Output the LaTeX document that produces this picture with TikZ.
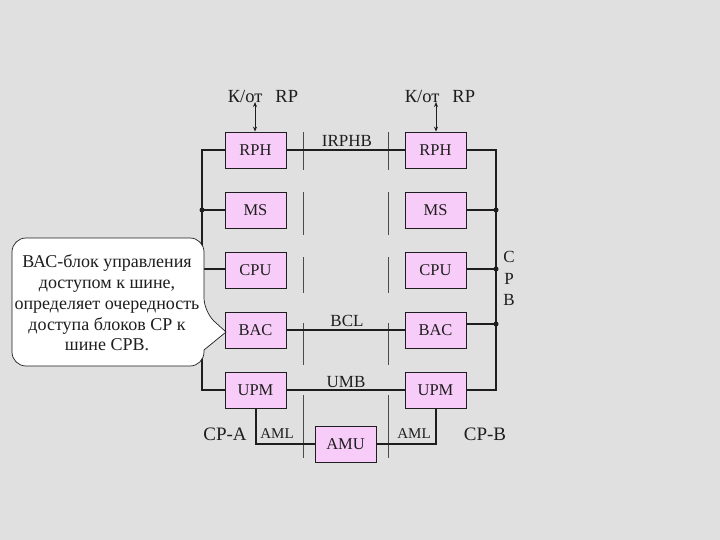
\documentclass[tikz,border=0pt]{standalone}
\usepackage{fontspec}
\setmainfont{Liberation Serif}
\usetikzlibrary{arrows.meta}
\definecolor{bg}{RGB}{224,224,224}
\definecolor{boxpink}{RGB}{248,204,248}
\definecolor{ink}{RGB}{30,30,30}
\tikzset{
  unit/.style={draw=ink,line width=0.8pt,fill=boxpink,minimum width=61pt,minimum height=36pt,inner sep=0pt,font=\fontsize{16.5}{18}\selectfont,text=ink},
  bus/.style={draw=ink,line width=1.6pt},
  divider/.style={draw=ink!80,line width=0.8pt},
  lbl/.style={inner sep=0pt,font=\fontsize{17}{19}\selectfont,text=ink},
  dotj/.style={circle,fill=ink,inner sep=0pt,minimum size=5pt},
}
\begin{document}
\begin{tikzpicture}[x=1pt,y=-1pt]
\fill[bg] (0,0) rectangle (720,540);
\useasboundingbox (0,0) rectangle (720,540);

% dividers
\foreach \xx in {303,388}{
  \foreach \ya/\yb in {132/170,192/235,257/293,323/365,395/458}{
    \draw[divider] (\xx,\ya) -- (\xx,\yb);
  }
}

% units
\node[unit] (rpha) at (255.5,150) {RPH};
\node[unit] (msa)  at (255.5,210) {MS};
\node[unit] (cpua) at (255.5,270) {CPU};
\node[unit] (baca) at (255.5,330) {BAC};
\node[unit] (upma) at (255.5,390) {UPM};
\node[unit] (rphb) at (435.5,150) {RPH};
\node[unit] (msb)  at (435.5,210) {MS};
\node[unit] (cpub) at (435.5,270) {CPU};
\node[unit] (bacb) at (435.5,330) {BAC};
\node[unit] (upmb) at (435.5,390) {UPM};
\node[unit] (amu)  at (345.5,444) {AMU};

% bus coordinates
\coordinate (la1) at (202,150);
\coordinate (la2) at (202,210);
\coordinate (la3) at (202,269);
\coordinate (la5) at (202,390);
\coordinate (rb1) at (496,150);
\coordinate (rb2) at (496,210);
\coordinate (rb3) at (496,269);
\coordinate (rb4) at (496,324);
\coordinate (rb5) at (496,390);

% left bus
\draw[bus] (rpha.west) -- (la1) -- (la5) -- (upma.west);
\draw[bus] (la2) -- (msa.west);
\draw[bus] (la3) -- (cpua.west |- la3);
\node[dotj] at (la2) {};

% right bus
\draw[bus] (rphb.east) -- (rb1) -- (rb5) -- (upmb.east);
\draw[bus] (msb.east) -- (rb2);
\draw[bus] (cpub.east |- rb3) -- (rb3);
\draw[bus] (bacb.east |- rb4) -- (rb4);
\node[dotj] at (rb2) {};
\node[dotj] at (rb3) {};
\node[dotj] at (rb4) {};

% inter-processor buses
\draw[bus] (rpha.east) -- (rphb.west);
\draw[bus] (baca.east) -- (bacb.west);
\draw[bus] (upma.east) -- (upmb.west);

% AML
\coordinate (amla) at (256,444);
\coordinate (amlb) at (436,444);
\draw[bus] (upma.south -| amla) -- (amla) -- (amu.west);
\draw[bus] (upmb.south -| amlb) -- (amlb) -- (amu.east);

% bus labels
\node[lbl] (irphb) at (347,141) {IRPHB};
\node[lbl] (bcl) at (347,321) {BCL};
\node[lbl] (umb) at (346,382) {UMB};
\node[lbl,font=\fontsize{15}{17}\selectfont] (amll) at (277,434) {AML};
\node[lbl,font=\fontsize{15}{17}\selectfont] (amlr) at (414,434) {AML};
\node[lbl,font=\fontsize{19}{21}\selectfont] (cpa) at (225,434) {CP-A};
\node[lbl,font=\fontsize{19}{21}\selectfont] (cpb) at (485,434) {CP-B};

% CPB vertical label
\node[lbl] (cc) at (509,257) {C};
\node[lbl] (pp) at (509,279) {P};
\node[lbl] (bb) at (509,300) {B};

% top labels with arrows
\node[lbl,font=\fontsize{18.5}{20}\selectfont] (topa) at (263,96) {К/от\hspace{13pt}RP};
\node[lbl,font=\fontsize{18.5}{20}\selectfont] (topb) at (440,96) {К/от\hspace{13pt}RP};
\coordinate (ta) at (255,102);
\coordinate (tb) at (436,102);
\draw[ink,line width=0.9pt,{Stealth[length=5pt,width=4pt]}-{Stealth[length=5pt,width=4pt]}] (ta) -- (ta |- rpha.north);
\draw[ink,line width=0.9pt,{Stealth[length=5pt,width=4pt]}-{Stealth[length=5pt,width=4pt]}] (tb) -- (tb |- rphb.north);

% callout
\coordinate (tip) at (226,332);
\draw[ink,line width=0.7pt,fill=white,rounded corners=14pt]
  (12,238) -- (204,238) -- (204,312)
  [sharp corners] -- (tip) -- (204,350)
  [rounded corners=14pt] -- (204,366) -- (12,366) -- cycle;
\node[align=center,inner sep=0pt,font=\fontsize{18}{20.7}\selectfont,text=ink] (note) at (107,303)
  {ВАС-блок управления\\доступом к шине,\\определяет очередность\\доступа блоков СР к\\шине СРВ.};
\end{tikzpicture}
\end{document}
